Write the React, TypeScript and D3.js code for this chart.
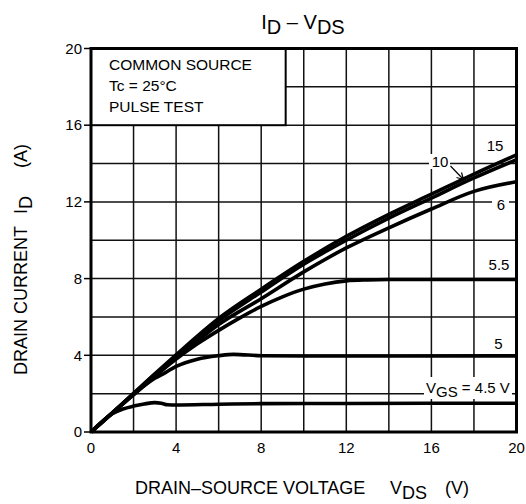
import * as d3 from "d3";

// VDS (V) / ID (A) pairs, one array per gate voltage
const VGS_15: [number, number][] = [
  [0, 0], [1, 1.0], [2, 2.02], [3, 3.03], [4, 4.02], [5, 5.0], [6, 5.92],
  [8, 7.45], [10, 8.9], [12, 10.2], [14, 11.35], [16, 12.4], [18, 13.45], [20, 14.45],
];
const VGS_10: [number, number][] = [
  [0, 0], [1, 1.0], [2, 2.0], [3, 3.0], [4, 3.95], [5, 4.9], [6, 5.8],
  [8, 7.3], [10, 8.75], [12, 10.0], [14, 11.15], [16, 12.2], [18, 13.25], [20, 14.2],
];
const VGS_6: [number, number][] = [
  [0, 0], [1, 0.98], [2, 1.98], [3, 2.95], [4, 3.88], [5, 4.75], [6, 5.6],
  [8, 6.95], [10, 8.35], [12, 9.6], [14, 10.65], [16, 11.63], [18, 12.55], [20, 13.05],
];
const VGS_55: [number, number][] = [
  [0, 0], [1, 0.98], [2, 1.95], [3, 2.9], [4, 3.8], [5, 4.6], [6, 5.3], [7, 5.95],
  [8, 6.55], [9, 7.05], [10, 7.45], [11, 7.72], [12, 7.88], [13, 7.93], [14, 7.95], [20, 7.95],
];
const VGS_5: [number, number][] = [
  [0, 0], [1, 0.98], [2, 1.95], [3, 2.8], [3.5, 3.1], [4, 3.42], [5, 3.8], [6, 3.98],
  [6.7, 4.05], [8, 3.98], [10, 3.96], [14, 3.96], [20, 3.97],
];
const VGS_45: [number, number][] = [
  [0, 0], [1, 0.95], [1.5, 1.2], [2, 1.35], [2.5, 1.46], [3, 1.53], [3.3, 1.5],
  [3.6, 1.42], [4, 1.41], [6, 1.45], [8, 1.48], [12, 1.49], [20, 1.5],
];

const SERIES = [VGS_45, VGS_5, VGS_55, VGS_6, VGS_10, VGS_15];

const X_TICKS = [0, 4, 8, 12, 16, 20];
const Y_TICKS = [0, 4, 8, 12, 16, 20];
const GRID = [2, 4, 6, 8, 10, 12, 14, 16, 18];

const LEGEND_LINES = ["COMMON SOURCE", "Tc = 25°C", "PULSE TEST"];

const W = 526;
const H = 504;
const FONT = "'Liberation Sans', Arial, Helvetica, sans-serif";

export default function App() {
  const x = d3.scaleLinear().domain([0, 20]).range([91, 516.5]);
  const y = d3.scaleLinear().domain([0, 20]).range([432, 48.5]);

  const line = d3
    .line<[number, number]>()
    .x((d) => x(d[0]))
    .y((d) => y(d[1]))
    .curve(d3.curveMonotoneX);

  // legend box covers the top-left grid cells
  const boxRight = x(9.15);
  const boxBottom = y(16);

  return (
    <div style={{ position: "absolute", left: 0, top: 0 }}>
      <svg width={W} height={H} style={{ display: "block", background: "#fff" }} fontFamily={FONT}>
        {/* title */}
        <text x={303} y={29} textAnchor="middle" fontSize={20} fill="#000" style={{ whiteSpace: "pre" }}>
          I<tspan dy={5}>D</tspan>
          <tspan dy={-5}> – V</tspan>
          <tspan dy={5}>DS</tspan>
        </text>

        {/* grid */}
        {GRID.map((v) => (
          <line key={"gx" + v} x1={x(v)} x2={x(v)} y1={y(0)} y2={y(20)} stroke="#111" strokeWidth={1.5} />
        ))}
        {GRID.map((v) => (
          <line key={"gy" + v} x1={x(0)} x2={x(20)} y1={y(v)} y2={y(v)} stroke="#111" strokeWidth={1.5} />
        ))}

        {/* conditions box */}
        <rect
          x={x(0)}
          y={y(20)}
          width={boxRight - x(0)}
          height={boxBottom - y(20)}
          fill="#fff"
          stroke="#000"
          strokeWidth={2}
        />
        {LEGEND_LINES.map((t, i) => (
          <text key={t} x={109} y={70 + i * 21} fontSize={15.5} fill="#000">
            {t}
          </text>
        ))}

        {/* curves */}
        {SERIES.map((s, i) => (
          <path key={i} d={line(s) ?? ""} fill="none" stroke="#000" strokeWidth={3.6} strokeLinejoin="round" />
        ))}

        {/* curve labels */}
        <text x={495} y={151} textAnchor="middle" fontSize={15} fill="#000">15</text>
        <rect x={429} y={154} width={21} height={15} fill="#fff" />
        <text x={440} y={167} textAnchor="middle" fontSize={15} fill="#000">10</text>
        <line x1={450.5} y1={166} x2={463.5} y2={179.5} stroke="#000" strokeWidth={1.2} />
        <path d="M456.5,177.5 L463.5,179.5 L461.5,172.5" fill="none" stroke="#000" strokeWidth={1.2} />
        <rect x={492} y={195} width={17} height={17} fill="#fff" />
        <text x={501} y={210} textAnchor="middle" fontSize={15} fill="#000">6</text>
        <text x={499} y={270} textAnchor="middle" fontSize={15} fill="#000">5.5</text>
        <text x={498.5} y={349} textAnchor="middle" fontSize={15} fill="#000">5</text>
        <rect x={424} y={377} width={88} height={22} fill="#fff" />
        <text x={426} y={392.5} fontSize={15} fill="#000" style={{ whiteSpace: "pre" }}>
          V<tspan dy={4}>GS</tspan>
          <tspan dy={-4}> = 4.5 V</tspan>
        </text>

        {/* frame */}
        <rect x={x(0)} y={y(20)} width={x(20) - x(0)} height={y(0) - y(20)} fill="none" stroke="#000" strokeWidth={3} />

        {/* y axis ticks */}
        {Y_TICKS.map((v) => (
          <g key={"yt" + v}>
            <line x1={x(0) - 7} x2={x(0)} y1={y(v)} y2={y(v)} stroke="#000" strokeWidth={1.5} />
            <text x={82} y={y(v)} dy="0.35em" textAnchor="end" fontSize={15} fill="#000">
              {v}
            </text>
          </g>
        ))}

        {/* x axis ticks */}
        {X_TICKS.map((v) => (
          <text key={"xt" + v} x={x(v)} y={453} textAnchor="middle" fontSize={15} fill="#000">
            {v}
          </text>
        ))}

        {/* axis titles */}
        <text x={135} y={494} fontSize={18} fill="#000">
          DRAIN–SOURCE VOLTAGE
          <tspan x={390}>V</tspan>
          <tspan dy={5}>DS</tspan>
          <tspan dy={-5} x={445}>(V)</tspan>
        </text>
        <text transform="translate(27,375) rotate(-90)" fontSize={18} fill="#000">
          DRAIN CURRENT
          <tspan dx={12}>I</tspan>
          <tspan dy={5}>D</tspan>
          <tspan dy={-5} dx={28}>(A)</tspan>
        </text>
      </svg>
    </div>
  );
}
